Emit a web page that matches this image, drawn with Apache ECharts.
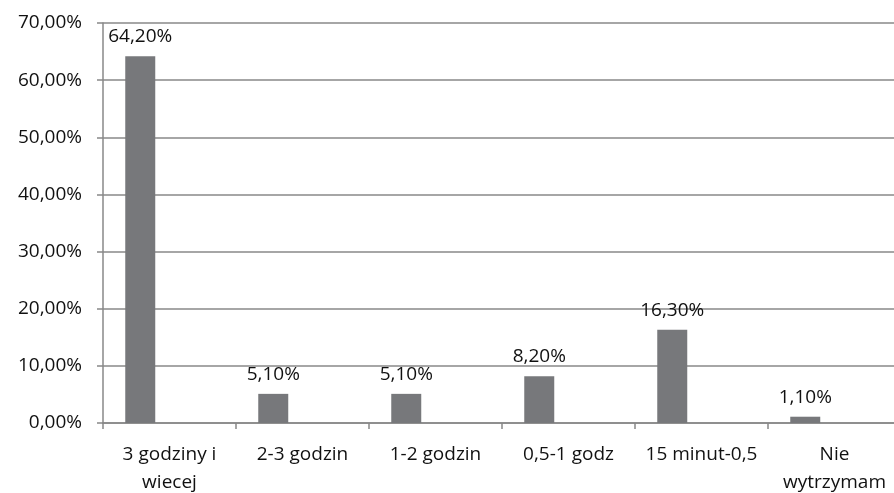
<!DOCTYPE html>
<html>
<head>
<meta charset="utf-8">
<script src="https://cdn.jsdelivr.net/npm/echarts@6/dist/echarts.min.js"></script>
<style>
  html, body { margin: 0; padding: 0; background: #fff; }
  #chart { width: 894px; height: 493px; }
</style>
</head>
<body>
<div id="chart"></div>
<script>
// categories and values (percent)
const categories = ['3 godziny i\nwiecej', '2-3 godzin', '1-2 godzin', '0,5-1 godz', '15 minut-0,5', 'Nie\nwytrzymam']
const values = [64.2, 5.1, 5.1, 8.2, 16.3, 1.1]
const emptySeries = ['-', '-', '-', '-', '-', '-']

const fmt = v => v.toFixed(2).replace('.', ',') + '%'
const font = '"Open Sans", sans-serif'

const chart = echarts.init(document.getElementById('chart'))
chart.setOption({
  animation: false,
  grid: { left: 103, top: 23, width: 798, height: 400, outerBoundsMode: 'none' },
  xAxis: {
    type: 'category',
    data: categories,
    axisLine: { lineStyle: { color: '#888', width: 1.5 } },
    axisTick: { show: true, length: 6, lineStyle: { color: '#888', width: 1.5 } },
    axisLabel: {
      color: '#111', fontFamily: font, fontSize: 19, margin: 18,
      lineHeight: 28, interval: 0
    }
  },
  yAxis: {
    type: 'value',
    min: 0, max: 70, interval: 10,
    axisLine: { show: true, lineStyle: { color: '#888', width: 1.5 } },
    axisTick: { show: true, length: 6, lineStyle: { color: '#888', width: 1.5 } },
    splitLine: { lineStyle: { color: '#888', width: 1.5 } },
    axisLabel: { color: '#111', fontFamily: font, fontSize: 19, margin: 21, align: 'right', formatter: fmt }
  },
  series: [
    {
      type: 'bar',
      data: values,
      barWidth: 30,
      barGap: '95%',
      itemStyle: { color: '#77787b' },
      label: {
        show: true, position: 'top', distance: 10,
        color: '#111', fontFamily: font, fontSize: 19,
        formatter: p => fmt(p.value)
      }
    },
    {
      type: 'bar',
      data: emptySeries,
      barWidth: 30
    }
  ]
})
</script>
</body>
</html>
